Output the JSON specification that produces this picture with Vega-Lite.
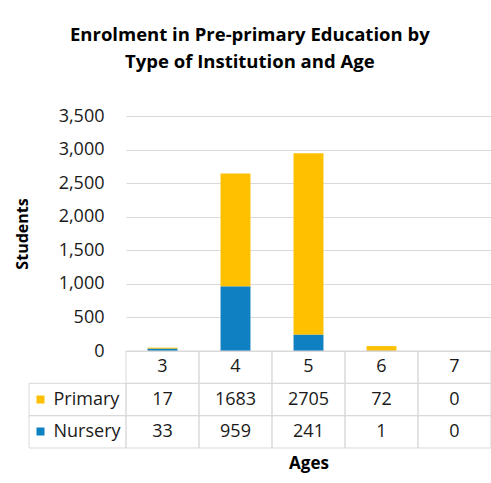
{
  "$schema": "https://vega.github.io/schema/vega-lite/v6.json",
  "padding": {"left": 14, "top": 25, "right": 0, "bottom": 5},
  "background": "white",
  "title": {
    "text": ["Enrolment in Pre-primary Education by", "Type of Institution and Age"],
    "fontSize": 18.5,
    "fontWeight": "bold",
    "font": "Open Sans",
    "color": "#000000",
    "lineHeight": 27,
    "anchor": "middle",
    "frame": "bounds",
    "dx": -3,
    "offset": 36
  },
  "datasets": {
    "enrol": [
      {"age": "3", "type": "Primary", "value": 17},
      {"age": "4", "type": "Primary", "value": 1683},
      {"age": "5", "type": "Primary", "value": 2705},
      {"age": "6", "type": "Primary", "value": 72},
      {"age": "7", "type": "Primary", "value": 0},
      {"age": "3", "type": "Nursery", "value": 33},
      {"age": "4", "type": "Nursery", "value": 959},
      {"age": "5", "type": "Nursery", "value": 241},
      {"age": "6", "type": "Nursery", "value": 1},
      {"age": "7", "type": "Nursery", "value": 0}
    ]
  },
  "columns": 2,
  "spacing": 0,
  "bounds": "flush",
  "concat": [
    {
      "width": 97,
      "height": 235,
      "view": {"stroke": null},
      "data": {"values": [{"blank": ""}]},
      "mark": {"type": "text"},
      "encoding": {"text": {"field": "blank"}}
    },
    {
      "width": 365,
      "height": 235,
      "view": {"stroke": null},
      "data": {"name": "enrol"},
      "mark": {"type": "bar"},
      "encoding": {
        "x": {
          "field": "age",
          "type": "ordinal",
          "scale": {"domain": ["3", "4", "5", "6", "7"], "paddingInner": 0.59, "paddingOuter": 0.295},
          "axis": {"title": null, "labels": false, "ticks": false, "grid": false, "domainColor": "#D9D9D9", "domainWidth": 1}
        },
        "y": {
          "field": "value",
          "type": "quantitative",
          "aggregate": "sum",
          "stack": "zero",
          "scale": {"domain": [0, 3500], "nice": false},
          "axis": {
            "values": [0, 500, 1000, 1500, 2000, 2500, 3000, 3500],
            "format": ",d",
            "title": "Students",
            "titleFontSize": 16,
            "titleFontWeight": "bold",
            "titleColor": "#000000",
            "titlePadding": 28,
            "labelFontSize": 18,
            "labelPadding": 22,
            "labelColor": "#1a1a1a",
            "ticks": false,
            "domain": false,
            "gridColor": "#D9D9D9",
            "gridWidth": 1
          }
        },
        "color": {
          "field": "type",
          "type": "nominal",
          "scale": {"domain": ["Primary", "Nursery"], "range": ["#FFC000", "#0F80C1"]},
          "legend": null
        },
        "order": {"field": "type", "type": "nominal", "sort": "ascending"}
      }
    },
    {
      "width": 97,
      "height": 97,
      "view": {"stroke": null},
      "data": {"name": "enrol"},
      "transform": [{"filter": "datum.age === '3'"}],
      "mark": {"type": "rect", "fill": "transparent", "stroke": "#D9D9D9", "strokeWidth": 1},
      "encoding": {
        "y": {
          "field": "type",
          "type": "nominal",
          "scale": {"domain": ["Primary", "Nursery"], "paddingInner": 0, "paddingOuter": 0.5, "align": 1},
          "axis": {
            "orient": "right",
            "offset": -90,
            "title": null,
            "domain": false,
            "grid": false,
            "ticks": true,
            "tickSize": 8,
            "tickWidth": 8,
            "tickColor": {"condition": {"test": "datum.value === 'Primary'", "value": "#FFC000"}, "value": "#0F80C1"},
            "labelFontSize": 18,
            "labelPadding": 9,
            "labelColor": "#1a1a1a"
          }
        }
      }
    },
    {
      "width": 365,
      "height": 97,
      "view": {"stroke": null},
      "data": {"name": "enrol"},
      "encoding": {
        "x": {
          "field": "age",
          "type": "ordinal",
          "scale": {"domain": ["3", "4", "5", "6", "7"], "paddingInner": 0, "paddingOuter": 0},
          "axis": {"title": "Ages", "labels": false, "ticks": false, "domain": false, "grid": false, "titleFontSize": 17, "titleFontWeight": "bold", "titleColor": "#000000", "titlePadding": 7}
        }
      },
      "layer": [
        {
          "mark": {"type": "rect", "fill": "transparent", "stroke": "#D9D9D9", "strokeWidth": 1},
          "encoding": {
            "y": {"field": "type", "type": "nominal", "scale": {"domain": ["Age", "Primary", "Nursery"], "paddingInner": 0, "paddingOuter": 0}, "axis": null}
          }
        },
        {
          "transform": [{"filter": "datum.type === 'Primary'"}],
          "mark": {"type": "rect", "fill": "transparent", "stroke": "#D9D9D9", "strokeWidth": 1},
          "encoding": {
            "y": {"datum": "Age", "type": "nominal", "axis": null}
          }
        },
        {
          "transform": [{"filter": "datum.type === 'Primary'"}],
          "mark": {"type": "text", "fontSize": 18, "color": "#1a1a1a"},
          "encoding": {
            "y": {"datum": "Age", "type": "nominal", "axis": null},
            "text": {"field": "age"}
          }
        },
        {
          "mark": {"type": "text", "fontSize": 18, "color": "#1a1a1a"},
          "encoding": {
            "y": {"field": "type", "type": "nominal", "axis": null},
            "text": {"field": "value", "type": "quantitative", "format": "d"}
          }
        }
      ]
    }
  ],
  "config": {
    "font": "Open Sans",
    "text": {"font": "Open Sans"},
    "axis": {"labelFont": "Open Sans", "titleFont": "Open Sans"}
  }
}
